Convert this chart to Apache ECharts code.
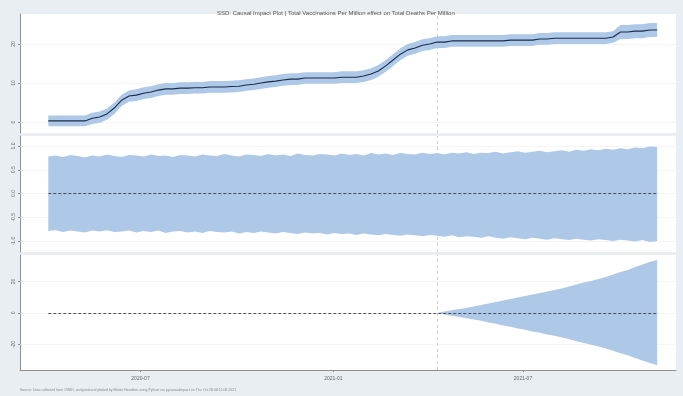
<!DOCTYPE html>
<html>
<head>
<meta charset="utf-8">
<script src="https://cdn.jsdelivr.net/npm/echarts@6/dist/echarts.min.js"></script>
<style>html,body{margin:0;padding:0;background:#e9eef2;}#c{width:683px;height:396px;}</style>
</head>
<body>
<div id="c"></div>
<script>
// ---- data (weekly samples, starting 2020-04-04) ----
const startDate = '2020-04-04';
const stepDays = 7;
const interventionDate = '2021-04-10';
const xTickLabels = ['2020-07-01', '2021-01-01', '2021-07-01'];
const topTicks = [0, 10, 20];
const midTicks = [-1, -0.5, 0, 0.5, 1];
const botTicks = [-20, 0, 20];

const topMean = [0.3,0.3,0.3,0.3,0.3,0.3,1.0,1.3,2.1,3.6,
  5.6,6.7,6.9,7.4,7.7,8.2,8.5,8.5,8.7,8.7,
  8.8,8.8,9.0,9.0,9.0,9.1,9.2,9.5,9.7,10.0,
  10.3,10.5,10.8,11.0,11.0,11.3,11.3,11.3,11.3,11.3,
  11.5,11.5,11.5,11.8,12.3,13.1,14.4,15.9,17.4,18.5,
  19.0,19.7,20.0,20.5,20.5,20.8,20.8,20.8,20.8,20.8,
  20.8,20.8,20.8,21.0,21.0,21.0,21.0,21.3,21.3,21.5,
  21.5,21.5,21.5,21.5,21.5,21.5,21.5,21.8,23.1,23.1,
  23.3,23.3,23.6,23.6];
const topUpper = [1.7,1.7,1.7,1.7,1.7,1.7,2.4,2.7,3.5,5.0,
  7.0,8.1,8.4,8.9,9.2,9.7,10.0,10.0,10.2,10.2,
  10.3,10.3,10.5,10.5,10.5,10.6,10.7,11.0,11.2,11.5,
  11.8,12.0,12.3,12.5,12.5,12.8,12.8,12.8,12.8,12.8,
  13.0,13.0,13.0,13.3,13.8,14.6,15.9,17.4,18.9,20.0,
  20.5,21.2,21.5,22.0,22.0,22.3,22.3,22.3,22.3,22.3,
  22.3,22.3,22.3,22.5,22.5,22.5,22.5,22.8,22.8,23.0,
  23.0,23.0,23.0,23.0,23.0,23.0,23.0,23.3,24.9,24.9,
  25.1,25.1,25.4,25.4];
const topLower = [-1.1,-1.1,-1.1,-1.1,-1.1,-1.1,-0.5,-0.2,0.6,2.1,
  4.1,5.2,5.4,5.9,6.2,6.7,7.0,7.0,7.2,7.2,
  7.3,7.3,7.5,7.5,7.5,7.6,7.7,8.0,8.2,8.5,
  8.8,9.0,9.3,9.5,9.5,9.8,9.8,9.8,9.8,9.8,
  10.0,10.0,10.0,10.3,10.8,11.6,12.9,14.4,15.9,17.0,
  17.5,18.2,18.5,19.0,19.0,19.3,19.3,19.3,19.3,19.3,
  19.3,19.3,19.3,19.5,19.5,19.5,19.5,19.8,19.8,20.0,
  20.0,20.0,20.0,20.0,20.0,20.0,20.0,20.3,21.3,21.3,
  21.5,21.5,21.8,21.8];

const pointUpper = [0.78,0.80,0.77,0.81,0.79,0.76,0.80,0.78,0.82,0.79,
  0.77,0.81,0.80,0.78,0.82,0.79,0.80,0.77,0.81,0.80,
  0.78,0.82,0.80,0.79,0.83,0.80,0.78,0.82,0.81,0.79,
  0.83,0.80,0.82,0.79,0.84,0.81,0.80,0.83,0.82,0.80,
  0.84,0.81,0.83,0.80,0.85,0.82,0.84,0.81,0.85,0.83,
  0.82,0.86,0.83,0.85,0.82,0.86,0.84,0.87,0.83,0.86,
  0.85,0.88,0.84,0.87,0.89,0.86,0.88,0.90,0.87,0.89,
  0.91,0.88,0.92,0.90,0.93,0.91,0.94,0.92,0.95,0.93,
  0.97,0.95,0.99,0.98];
const pointLower = [-0.79,-0.77,-0.81,-0.78,-0.80,-0.82,-0.78,-0.80,-0.77,-0.81,
  -0.80,-0.78,-0.82,-0.79,-0.81,-0.78,-0.83,-0.80,-0.79,-0.82,
  -0.80,-0.83,-0.79,-0.81,-0.82,-0.80,-0.84,-0.81,-0.83,-0.80,
  -0.82,-0.84,-0.81,-0.83,-0.85,-0.82,-0.84,-0.83,-0.86,-0.83,
  -0.85,-0.84,-0.87,-0.84,-0.86,-0.88,-0.85,-0.87,-0.89,-0.86,
  -0.88,-0.90,-0.87,-0.89,-0.91,-0.88,-0.92,-0.90,-0.91,-0.93,
  -0.90,-0.93,-0.95,-0.92,-0.94,-0.96,-0.93,-0.95,-0.97,-0.94,
  -0.96,-0.98,-0.95,-0.97,-0.99,-0.96,-0.98,-1.00,-0.97,-0.99,
  -1.01,-0.98,-1.02,-1.00];

// cumulative band, from the intervention week onwards
const cumStartIndex = 53;
const cumUpperPost = [0,1.0,1.8,2.5,3.2,4.1,5.1,6.0,7.0,7.9,8.9,9.8,10.8,11.7,12.7,13.7,
  14.6,15.6,16.8,18.1,19.4,20.3,21.6,22.9,24.4,26.0,27.3,29.2,30.8,32.4,33.7];
const cumLowerPost = [0,-1.0,-1.7,-2.5,-3.3,-4.1,-5.0,-6.0,-6.9,-7.9,-8.8,-9.8,-10.7,-11.7,-12.6,-13.6,
  -14.5,-15.5,-16.6,-17.9,-19.1,-20.1,-21.3,-22.5,-24.0,-25.5,-26.8,-28.6,-30.2,-31.7,-33.2];

// ---- build ----
const DAY = 86400000;
const ts = (d) => Date.parse(d + 'T00:00:00Z');
const t0 = ts(startDate);
const dates = topMean.map((_, i) => t0 + i * stepDays * DAY);
const firstDate = dates[0], lastDate = dates[dates.length - 1];
const pre = new Array(cumStartIndex).fill(null);
const cumUpper = pre.concat(cumUpperPost);
const cumLower = pre.concat(cumLowerPost);

const BAND = '#aec8e8';
const NAVY = '#1c2b4a';
const xMin = ts('2020-03-08'), xMax = ts('2021-11-24');
const xTickVals = xTickLabels.map(ts);
const pairs = (arr) => arr.map((v, i) => [dates[i], v]);

function gridLines(ticks) {
  return ticks.map(v => ({ yAxis: v, lineStyle: { color: '#eeeeee', width: 0.6, type: 'solid' } }));
}
const vline = { xAxis: ts(interventionDate), lineStyle: { color: '#c4c4c4', width: 0.8, type: [3, 3] } };
const zeroLine = [{ coord: [firstDate, 0] }, { coord: [lastDate, 0] }];

function yAx(idx, min, max, ticks, fmt) {
  return {
    gridIndex: idx, type: 'value', min: min, max: max,
    axisLine: { show: true, lineStyle: { color: '#8f8f8f', width: 1 } },
    axisTick: { show: true, customValues: ticks, length: 2, lineStyle: { color: '#8f8f8f' } },
    axisLabel: { customValues: ticks, fontSize: 5, color: '#666', rotate: 90, margin: 4, formatter: fmt },
    splitLine: { show: false }
  };
}
function xAx(idx, showLabels) {
  return {
    gridIndex: idx, type: 'value', min: xMin, max: xMax,
    axisLine: { show: showLabels, onZero: false, lineStyle: { color: '#8f8f8f', width: 1 } },
    axisTick: { show: showLabels, customValues: xTickVals, length: 2, lineStyle: { color: '#8f8f8f' } },
    axisLabel: {
      show: showLabels, customValues: xTickVals,
      fontSize: 5, color: '#666', margin: 6,
      formatter: (v) => { const d = new Date(v); return d.getUTCFullYear() + '-' + String(d.getUTCMonth() + 1).padStart(2, '0'); }
    },
    splitLine: { show: false }
  };
}

// band drawn as one polygon through the axis scales
function bandSeries(axisIdx, lo, hi) {
  const data = dates.map((d, i) => [d, lo[i], hi[i]]);
  return {
    type: 'custom', xAxisIndex: axisIdx, yAxisIndex: axisIdx, silent: true, clip: true, z: 2,
    encode: { x: 0, y: [1, 2] },
    data: data,
    renderItem: function (params, api) {
      if (params.dataIndex !== 0) return null;
      const valid = data.filter(r => r[1] != null && r[2] != null);
      const upperPts = valid.map(r => api.coord([r[0], r[2]]));
      const lowerPts = valid.slice().reverse().map(r => api.coord([r[0], r[1]]));
      return {
        type: 'polygon',
        shape: { points: upperPts.concat(lowerPts) },
        style: { fill: BAND }
      };
    }
  };
}
const lineBase = { type: 'line', symbol: 'none', silent: true, connectNulls: false };
const ml = (data, style, z) => ({ symbol: 'none', silent: true, z: z, label: { show: false }, lineStyle: style, data: data });
const zeroStyle = { color: '#3a3f4a', width: 0.9, type: [3, 2] };

const option = {
  animation: false,
  backgroundColor: '#e9eef2',
  title: {
    text: 'SSD: Causal Impact Plot | Total Vaccinations Per Million effect on Total Deaths Per Million',
    left: 212, top: 5,
    textStyle: { fontSize: 6, fontWeight: 'normal', color: '#555', fontFamily: 'Liberation Sans' }
  },
  graphic: [{
    type: 'text', left: 20, top: 388,
    style: { text: 'Source: Data collected from OWID, analysed and plotted by Martin Hamilton using Python via pycausalimpact on Thu Oct 28 08:11:08 2021', fontSize: 3.5, fill: '#888', fontFamily: 'Liberation Sans' }
  }],
  grid: [
    { left: 20, right: 7, top: 14, height: 119, show: true, backgroundColor: '#ffffff', borderWidth: 0 },
    { left: 20, right: 7, top: 136, height: 116, show: true, backgroundColor: '#ffffff', borderWidth: 0 },
    { left: 20, right: 7, top: 255, height: 115, show: true, backgroundColor: '#ffffff', borderWidth: 0 }
  ],
  xAxis: [xAx(0, false), xAx(1, false), xAx(2, true)],
  yAxis: [
    yAx(0, -2.8, 27.7, topTicks, v => String(v)),
    yAx(1, -1.23, 1.21, midTicks, v => v.toFixed(1)),
    yAx(2, -36.2, 36.8, botTicks, v => String(v))
  ],
  series: [
    // panel 1
    Object.assign({}, lineBase, { xAxisIndex: 0, yAxisIndex: 0, z: 1, data: [], markLine: ml(gridLines(topTicks).concat([vline]), undefined, 1) }),
    bandSeries(0, topLower, topUpper),
    Object.assign({}, lineBase, { xAxisIndex: 0, yAxisIndex: 0, z: 3, data: pairs(topMean), lineStyle: { color: NAVY, width: 1.1 } }),
    // panel 2
    Object.assign({}, lineBase, { xAxisIndex: 1, yAxisIndex: 1, z: 1, data: [], markLine: ml(gridLines(midTicks).concat([vline]), undefined, 1) }),
    bandSeries(1, pointLower, pointUpper),
    Object.assign({}, lineBase, { xAxisIndex: 1, yAxisIndex: 1, z: 3, data: [], markLine: ml([zeroLine], zeroStyle, 5) }),
    // panel 3
    Object.assign({}, lineBase, { xAxisIndex: 2, yAxisIndex: 2, z: 1, data: [], markLine: ml(gridLines(botTicks).concat([vline]), undefined, 1) }),
    bandSeries(2, cumLower, cumUpper),
    Object.assign({}, lineBase, { xAxisIndex: 2, yAxisIndex: 2, z: 3, data: [], markLine: ml([zeroLine], zeroStyle, 5) })
  ]
};
const chart = echarts.init(document.getElementById('c'), null, { renderer: 'canvas' });
chart.setOption(option);
</script>
</body>
</html>
